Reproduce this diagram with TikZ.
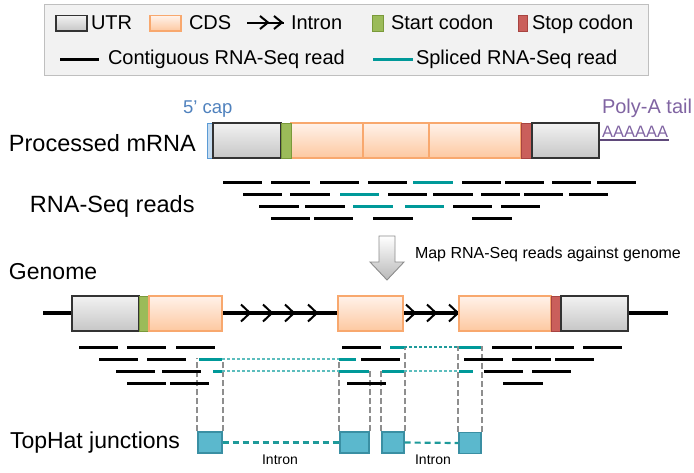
\documentclass[tikz,border=0pt]{standalone}
\usepackage{fontspec}
\setmainfont{Liberation Sans}
\definecolor{utrT}{HTML}{F2F2F2}
\definecolor{utrS}{HTML}{C6C6C6}
\definecolor{utrB}{HTML}{333333}
\definecolor{cdsT}{HTML}{FFF2EA}
\definecolor{cdsS}{HTML}{FDC8A0}
\definecolor{cdsB}{HTML}{F8A86E}
\definecolor{startF}{HTML}{9BBB59}
\definecolor{startB}{HTML}{7A9A3A}
\definecolor{stopF}{HTML}{CA5F5B}
\definecolor{stopB}{HTML}{A84441}
\definecolor{capF}{HTML}{C6DCF0}
\definecolor{capB}{HTML}{5B9BD5}
\definecolor{capT}{HTML}{4F81BD}
\definecolor{purp}{HTML}{8064A2}
\definecolor{purpD}{HTML}{5F497A}
\definecolor{tealR}{HTML}{009999}
\definecolor{tealL}{HTML}{5CBDBD}
\definecolor{tealM}{HTML}{1E9A9A}
\definecolor{jF}{HTML}{5BB8CD}
\definecolor{jB}{HTML}{3A8FA3}
\definecolor{grayV}{HTML}{8E8E8E}
\definecolor{legF}{HTML}{F2F2F2}
\definecolor{legB}{HTML}{BFBFBF}
\begin{document}
\begin{tikzpicture}[x=1pt,y=-1pt,
  txt/.style={inner sep=0pt,outer sep=0pt},
  big/.style={txt,font=\fontsize{23.5}{28}\selectfont},
  leg/.style={txt,font=\fontsize{20}{24}\selectfont},
  utrbox/.style={draw=utrB,line width=1.5pt,top color=utrT,bottom color=utrS},
  cdsbox/.style={draw=cdsB,line width=1.3pt,top color=cdsT,bottom color=cdsS},
  startbox/.style={draw=startB,line width=1pt,fill=startF},
  stopbox/.style={draw=stopB,line width=1pt,fill=stopF},
  capbox/.style={draw=capB,line width=1pt,fill=capF},
  contread/.style={line width=3pt,black},
  splread/.style={line width=3pt,tealR},
  tdash/.style={draw=tealL,line width=1.3pt,dash pattern=on 3pt off 2pt},
  tdashA/.style={draw=tealM,line width=1.3pt,dash pattern=on 3pt off 2pt},
  chev/.style={line width=2pt,black},
  gv/.style={draw=grayV,line width=2pt,dash pattern=on 6pt off 3pt},
  jbox/.style={draw=jB,fill=jF,line width=1.4pt,inner sep=0pt,minimum height=21pt},
  jlink/.style={draw=tealM,line width=2.2pt,dash pattern=on 6pt off 4pt},
  bigarrow/.style={draw=gray!90,line width=0.9pt,top color=white,bottom color=gray!55}
]
\useasboundingbox (0,0) rectangle (694,472);

% ---------- legend ----------
\draw[draw=legB,fill=legF,line width=1pt] (44,4) rectangle (648,75);
\draw[utrbox,line width=1.1pt] (56,15.5) rectangle (87,31);
\node[leg,anchor=base west] (lutr) at (91,29.3) {UTR};
\draw[cdsbox] (150,15.5) rectangle (181,31);
\node[leg,anchor=base west] (lcds) at (189,29.3) {CDS};
\draw[chev] (247,22.5) -- (284,22.5);
\draw[chev] (268,22.5) ++(-8,-6.5) -- (268,22.5) -- ++(-8,6.5);
\draw[chev] (282,22.5) ++(-8,-6.5) -- (282,22.5) -- ++(-8,6.5);
\node[leg,anchor=base west] (lintron) at (291,29.3) {Intron};
\draw[startbox] (372,15.5) rectangle (383,31);
\node[leg,anchor=base west] (lstart) at (391,29.3) {Start codon};
\draw[stopbox] (518,15.5) rectangle (527,31);
\node[leg,anchor=base west] (lstop) at (532,29.3) {Stop codon};
\draw[contread] (60,59) -- (99,59);
\node[leg,anchor=base west] (lcont) at (108,64.5) {Contiguous RNA-Seq read};
\draw[splread] (373,59) -- (413,59);
\node[leg,anchor=base west] (lspl) at (416,64.5) {Spliced RNA-Seq read};

% ---------- processed mRNA ----------
\node[txt,anchor=base west,text=capT,font=\fontsize{18.5}{22}\selectfont] (cap) at (183,113) {5’ cap};
\node[big,anchor=base west] (mrna) at (9,151) {Processed mRNA};
\node[big,anchor=base west] (reads) at (30,212) {RNA-Seq reads};
\node[txt,anchor=base west,text=purp,font=\fontsize{20}{24}\selectfont] (polya) at (602,113) {Poly-A tail};
\node[txt,anchor=base west,text=purp,font=\fontsize{16.5}{20}\selectfont] (aaa) at (602,137.3) {AAAAAA};
\draw[purpD,line width=2.2pt] (600,139.8) -- (669,139.8);

\draw[cdsbox] (291,123) rectangle (521,158);
\draw[cdsB,line width=1.3pt] (363,123) -- (363,158) (429,123) -- (429,158);
\draw[capbox] (207,123) rectangle (213,158);
\draw[utrbox] (213,123) rectangle (281,158);
\draw[startbox] (281,123) rectangle (291,158);
\draw[stopbox] (521,123) rectangle (532,158);
\draw[utrbox] (532,123) rectangle (599,158);

% mRNA reads
\foreach \a/\b in {223/262,271/310,320/359,368/407,462/501,505/544,552/591,597/636}
  \draw[contread] (\a,182) -- (\b,182);
\draw[splread] (413,182) -- (453,182);
\foreach \a/\b in {243/282,290/330,388/427,433/473,481/520,524/563,569/608}
  \draw[contread] (\a,194) -- (\b,194);
\draw[splread] (340,194) -- (379,194);
\foreach \a/\b in {259/299,305/345,453/492,501/540}
  \draw[contread] (\a,206) -- (\b,206);
\draw[splread] (353,206) -- (393,206);
\draw[splread] (405,206) -- (444,206);
\foreach \a/\b in {271/310,314/353,373/413,472/512}
  \draw[contread] (\a,218) -- (\b,218);

% ---------- mapping arrow ----------
\draw[bigarrow] (379,236) -- (395,236) -- (395,262) -- (404,262) -- (387,280) -- (370,262) -- (379,262) -- cycle;
\node[txt,anchor=base west,font=\fontsize{16}{19}\selectfont] (map) at (415,258.3) {Map RNA-Seq reads against genome};

% ---------- genome ----------
\node[big,anchor=base west,font=\fontsize{23}{28}\selectfont] (genome) at (9,279.3) {Genome};
\draw[line width=3.2pt] (43,313) -- (668,313);
\foreach \t in {250,272,294,317,415,436,458}
  \draw[chev] (\t,313) ++(-9,-8.5) -- (\t,313) -- ++(-9,8.5);
\draw[utrbox] (72,296) rectangle (139,331);
\draw[startbox] (139,296) rectangle (149,331);
\draw[cdsbox] (149,296) rectangle (222,331);
\draw[cdsbox] (338,296) rectangle (403,331);
\draw[cdsbox] (459,296) rectangle (551,331);
\draw[stopbox] (551,296) rectangle (561,331);
\draw[utrbox] (561,296) rectangle (628,331);

% ---------- junctions ----------
\node[jbox,minimum width=24pt] (j1) at (210,442.5) {};
\node[jbox,minimum width=29pt] (j2) at (354.5,442.5) {};
\node[jbox,minimum width=22pt] (j3) at (393,442.5) {};
\node[jbox,minimum width=22pt] (j4) at (470,443) {};
\draw[jlink] (j1.east) -- (j2.west);
\draw[jlink] (j3.east) -- (j4.west);
\node[big,anchor=base west,font=\fontsize{23}{28}\selectfont] (tophat) at (10,448.3) {TopHat junctions};
\node[txt,anchor=base,font=\fontsize{14}{17}\selectfont] (in1) at (280,464.3) {Intron};
\node[txt,anchor=base,font=\fontsize{14}{17}\selectfont] (in2) at (433,464.3) {Intron};

% gray guides
\draw[gv] (j1.north west) -- ++(0,-73);
\draw[gv] (j1.north east) -- ++(0,-73);
\draw[gv] (j2.north west) -- ++(0,-73);
\draw[gv] (j2.north east) -- ++(0,-61);
\draw[gv] (j3.north west) -- ++(0,-61);
\draw[gv] (j3.north east) -- ++(0,-85);
\draw[gv] (j4.north west) -- ++(0,-85.5);
\draw[gv] (j4.north east) -- ++(0,-85.5);

% genome reads
\foreach \a/\b in {79/118,127/166,176/215,342/381,492/532,535/574,583/622}
  \draw[contread] (\a,347) -- (\b,347);
\draw[tdashA] (404,347) -- (459,347);
\draw[splread] (390,347) -- (404,347);
\draw[splread] (459,347) -- (481,347);
\foreach \a/\b in {99/138,147/186,361/400,464/503,512/551,555/594}
  \draw[contread] (\a,359) -- (\b,359);
\draw[tdash] (222,359) -- (339,359);
\draw[splread] (199,359) -- (222,359);
\draw[splread] (339,359) -- (356,359);
\foreach \a/\b in {116/155,162/201,484/523,532/571}
  \draw[contread] (\a,371) -- (\b,371);
\draw[tdash] (222,371) -- (339,371);
\draw[tdash] (404,371) -- (459,371);
\draw[splread] (213,371) -- (222,371);
\draw[splread] (339,371) -- (369,371);
\draw[splread] (382,371) -- (404,371);
\draw[splread] (459,371) -- (473,371);
\foreach \a/\b in {127/166,170/209,347/386,503/543}
  \draw[contread] (\a,383) -- (\b,383);
\end{tikzpicture}
\end{document}
